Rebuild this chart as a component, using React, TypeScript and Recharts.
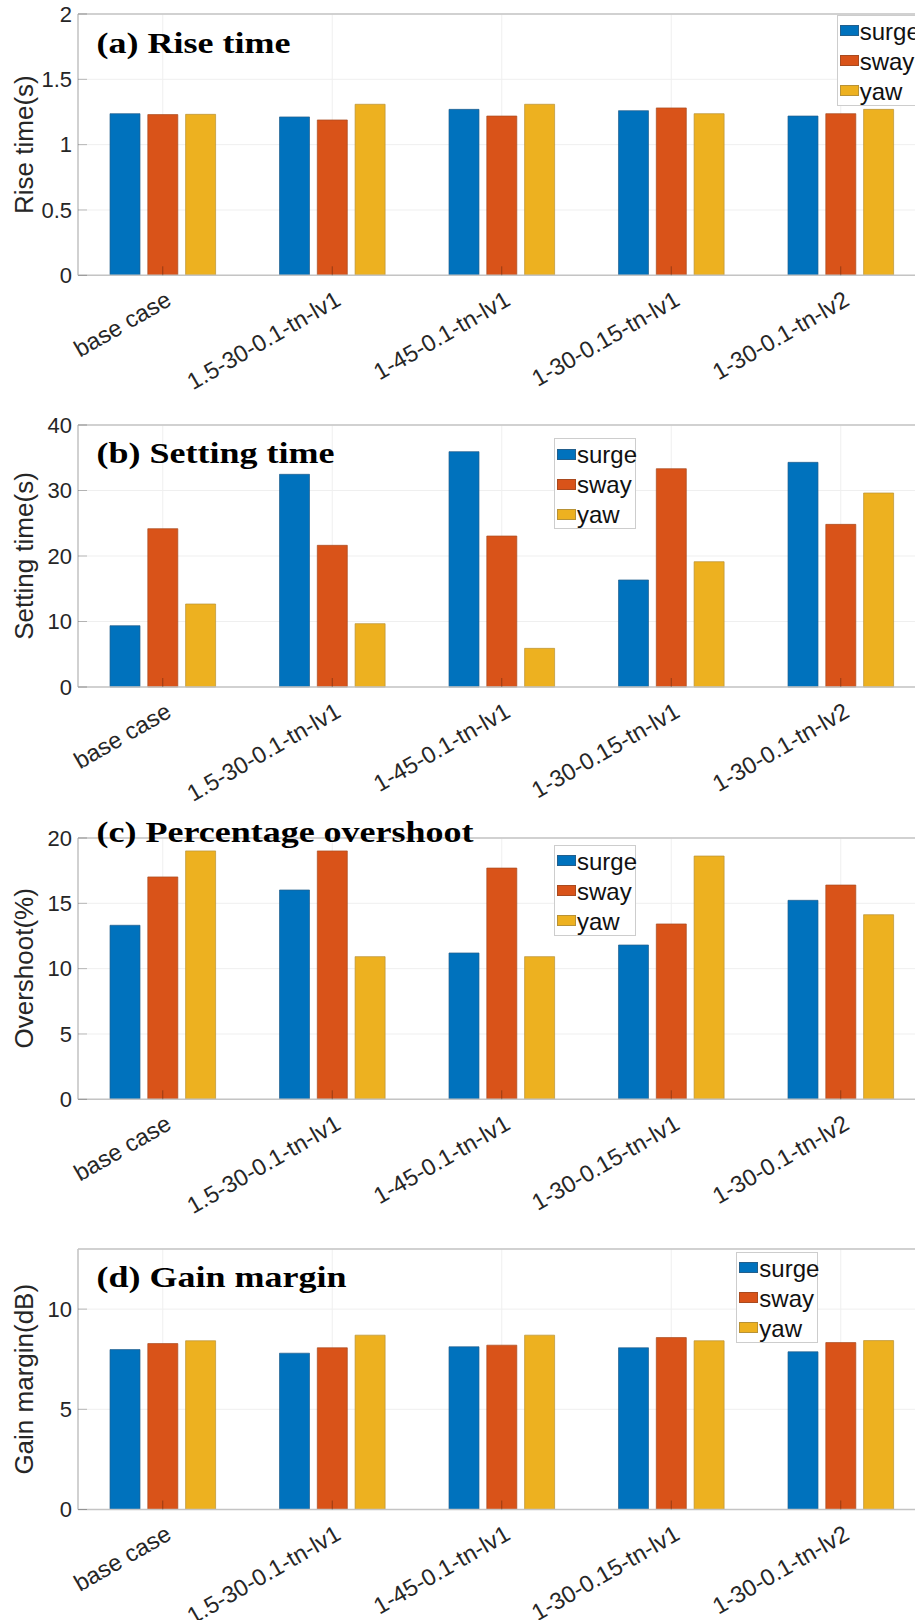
import React from 'react';
import { BarChart, Bar, XAxis, YAxis, CartesianGrid, Legend, ReferenceLine } from 'recharts';

// Controller cases on the horizontal axis
const categories = [
  'base case',
  '1.5-30-0.1-tn-lv1',
  '1-45-0.1-tn-lv1',
  '1-30-0.15-tn-lv1',
  '1-30-0.1-tn-lv2',
];

const seriesNames = ['surge', 'sway', 'yaw'];
const seriesColors = ['#0072BD', '#D95319', '#EDB120'];
const seriesEdges = ['#235f8c', '#a94a1f', '#b89236'];

// (a) Rise time (s)
const riseSurge = [1.237, 1.212, 1.27, 1.26, 1.219];
const riseSway = [1.23, 1.189, 1.219, 1.281, 1.237];
const riseYaw = [1.232, 1.309, 1.309, 1.237, 1.27];
const riseTicks = [0, 0.5, 1, 1.5, 2];

// (b) Setting time (s)
const settingSurge = [9.36, 32.47, 35.93, 16.34, 34.3];
const settingSway = [24.17, 21.63, 23.05, 33.33, 24.83];
const settingYaw = [12.67, 9.67, 5.9, 19.13, 29.62];
const settingTicks = [0, 10, 20, 30, 40];

// (c) Percentage overshoot (%)
const overshootSurge = [13.32, 16.02, 11.2, 11.81, 15.23];
const overshootSway = [17.02, 19.01, 17.7, 13.42, 16.4];
const overshootYaw = [19.01, 10.92, 10.92, 18.62, 14.13];
const overshootTicks = [0, 5, 10, 15, 20];

// (d) Gain margin (dB)
const gainSurge = [7.98, 7.8, 8.12, 8.07, 7.87];
const gainSway = [8.28, 8.07, 8.2, 8.58, 8.33];
const gainYaw = [8.42, 8.7, 8.7, 8.42, 8.43];
const gainTicks = [0, 5, 10];

const PLOT_LEFT = 78;
const BAND = 169.5;
const CHART_W = PLOT_LEFT + BAND * categories.length + 4;
const TOP_PAD = 22;
const AXIS_H = 130;
const SANS = "'Liberation Sans', Arial, Helvetica, sans-serif";
const SERIF = "'Liberation Serif', 'Times New Roman', serif";
const AXIS_COLOR = '#c4c4c4';
const TEXT_COLOR = '#262626';

const panels = [
  {
    key: 'a', title: '(a) Rise time', yLabel: 'Rise time(s)',
    surge: riseSurge, sway: riseSway, yaw: riseYaw, ticks: riseTicks, yMax: 2,
    plotTop: 14, plotHeight: 261.3, titleBase: 52.7, legendLeft: 836.7, legendTop: 14.7,
  },
  {
    key: 'b', title: '(b) Setting time', yLabel: 'Setting time(s)',
    surge: settingSurge, sway: settingSway, yaw: settingYaw, ticks: settingTicks, yMax: 40,
    plotTop: 425, plotHeight: 262, titleBase: 463.3, legendLeft: 554, legendTop: 438.3,
  },
  {
    key: 'c', title: '(c) Percentage overshoot', yLabel: 'Overshoot(%)',
    surge: overshootSurge, sway: overshootSway, yaw: overshootYaw, ticks: overshootTicks, yMax: 20,
    plotTop: 837.7, plotHeight: 261.3, titleBase: 841.7, legendLeft: 554, legendTop: 845,
  },
  {
    key: 'd', title: '(d) Gain margin', yLabel: 'Gain margin(dB)',
    surge: gainSurge, sway: gainSway, yaw: gainYaw, ticks: gainTicks, yMax: 13,
    plotTop: 1249, plotHeight: 260.5, titleBase: 1286.7, legendLeft: 736.3, legendTop: 1251.7,
  },
];

const XTick = (props: any) => {
  const { x, y, payload } = props;
  const ax = x + 10;
  const ay = y + 29;
  return (
    <text
      x={ax}
      y={ay}
      textAnchor="end"
      transform={`rotate(-30 ${ax} ${ay})`}
      fontFamily={SANS}
      fontSize={23.5}
      fill={TEXT_COLOR}
    >
      {payload.value}
    </text>
  );
};

const YTick = (props: any) => {
  const { x, y, payload } = props;
  return (
    <text x={x} y={y} dy="0.355em" textAnchor="end" fontFamily={SANS} fontSize={22} fill={TEXT_COLOR}>
      {payload.value}
    </text>
  );
};

const LegendBox = () => (
  <div
    style={{
      width: 80,
      height: 89,
      border: '1px solid #cdcdcd',
      background: '#ffffff',
      boxSizing: 'content-box',
    }}
  >
    {seriesNames.map((name, i) => (
      <div
        key={name}
        style={{ height: 30, display: 'flex', alignItems: 'center', paddingLeft: 2 }}
      >
        <span
          style={{
            display: 'inline-block',
            width: 17,
            height: 9,
            background: seriesColors[i],
            border: `0.5px solid ${seriesEdges[i]}`,
            marginRight: 1,
            flex: 'none',
          }}
        />
        <span
          style={{
            fontFamily: SANS,
            fontSize: 24,
            lineHeight: '30px',
            color: '#111',
            paddingTop: 2,
            whiteSpace: 'nowrap',
          }}
        >
          {name}
        </span>
      </div>
    ))}
  </div>
);

const Panel = ({ cfg }: { cfg: any }) => {
  const data = categories.map((name, i) => ({
    name,
    surge: cfg.surge[i],
    sway: cfg.sway[i],
    yaw: cfg.yaw[i],
  }));
  const chartTop = cfg.plotTop - TOP_PAD;
  const height = TOP_PAD + cfg.plotHeight + AXIS_H;
  return (
    <div style={{ position: 'absolute', left: 0, top: chartTop }}>
      <BarChart
        width={CHART_W}
        height={height}
        data={data}
        margin={{ top: TOP_PAD, right: 4, bottom: 0, left: 0 }}
        barSize={30}
        barGap={7.8}
      >
        <CartesianGrid stroke="#efefef" strokeWidth={1} />
        {seriesNames.map((name, i) => (
          <Bar
            key={name}
            dataKey={name}
            name={name}
            fill={seriesColors[i]}
            stroke={seriesEdges[i]}
            strokeWidth={0.7}
            isAnimationActive={false}
          />
        ))}
        <ReferenceLine y={cfg.yMax} stroke={AXIS_COLOR} strokeWidth={1.5} />
        <XAxis
          dataKey="name"
          height={AXIS_H}
          interval={0}
          tick={<XTick />}
          tickSize={-9}
          tickMargin={9}
          tickLine={{ stroke: 'rgba(0,0,0,0.3)' }}
          axisLine={{ stroke: AXIS_COLOR, strokeWidth: 1.5 }}
        />
        <YAxis
          width={PLOT_LEFT}
          type="number"
          domain={[0, cfg.yMax]}
          ticks={cfg.ticks}
          interval={0}
          tick={<YTick />}
          tickSize={-9}
          tickMargin={15}
          tickLine={{ stroke: 'rgba(0,0,0,0.25)' }}
          axisLine={{ stroke: AXIS_COLOR, strokeWidth: 1.5 }}
        />
        <Legend
          layout="vertical"
          align="center"
          verticalAlign="middle"
          content={() => <LegendBox />}
          wrapperStyle={{
            left: cfg.legendLeft,
            top: cfg.legendTop - chartTop,
            width: 82,
            height: 91,
          }}
        />
      </BarChart>
    </div>
  );
};

export default function App() {
  return (
    <div
      style={{
        position: 'absolute',
        left: 0,
        top: 0,
        width: 915,
        height: 1620,
        overflow: 'hidden',
        background: '#ffffff',
      }}
    >
      {panels.map((p) => (
        <Panel key={p.key} cfg={p} />
      ))}
      <svg
        width={915}
        height={1620}
        style={{ position: 'absolute', left: 0, top: 0, pointerEvents: 'none' }}
      >
        {panels.map((p) => (
          <g key={p.key}>
            <text
              transform={`translate(96.5 ${p.titleBase}) scale(1.2 1)`}
              fontFamily={SERIF}
              fontWeight="bold"
              fontSize={30}
              fill="#000"
            >
              {p.title}
            </text>
            <text
              transform={`translate(32.5 ${p.plotTop + p.plotHeight / 2}) rotate(-90)`}
              textAnchor="middle"
              fontFamily={SANS}
              fontSize={26}
              fill={TEXT_COLOR}
            >
              {p.yLabel}
            </text>
          </g>
        ))}
      </svg>
    </div>
  );
}
